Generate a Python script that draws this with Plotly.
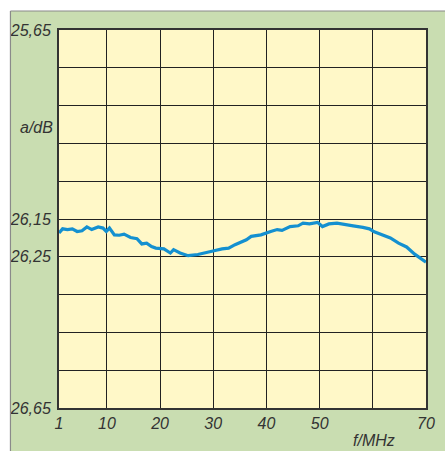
import plotly.graph_objects as go

# Data
freq_mhz = [1.0, 1.68, 2.59, 3.50, 4.41, 5.33, 6.24, 7.15, 8.36, 9.27, 9.89, 10.49,
            11.41, 12.32, 13.23, 14.45, 15.66, 16.57, 17.48, 18.40, 19.20, 20.72,
            21.94, 22.54, 23.76, 25.28, 27.10, 28.62, 30.15, 31.67, 32.89, 34.10,
            35.32, 36.23, 37.14, 38.97, 40.80, 42.02, 42.93, 44.45, 45.96, 46.88,
            48.10, 49.61, 50.53, 51.75, 53.26, 54.49, 56.31, 58.14, 59.36, 60.27,
            61.79, 63.30, 64.84, 66.35, 67.87, 69.09, 70.0]
atten_db = [26.187, 26.176, 26.178, 26.176, 26.183, 26.181, 26.171, 26.178, 26.171,
            26.174, 26.183, 26.174, 26.192, 26.193, 26.190, 26.199, 26.202, 26.216,
            26.214, 26.223, 26.227, 26.229, 26.240, 26.231, 26.240, 26.247, 26.244,
            26.240, 26.234, 26.229, 26.227, 26.218, 26.211, 26.205, 26.196, 26.192,
            26.183, 26.178, 26.180, 26.170, 26.168, 26.161, 26.163, 26.159, 26.170,
            26.163, 26.161, 26.163, 26.168, 26.172, 26.176, 26.184, 26.192, 26.200,
            26.214, 26.224, 26.243, 26.255, 26.264]

x_tickvals = [1, 10, 20, 30, 40, 50, 60, 70]
x_ticktext = ["1", "10", "20", "30", "40", "50", "", "70"]
y_tickvals = [25.65, 25.75, 25.85, 25.95, 26.05, 26.15, 26.25, 26.35, 26.45, 26.55, 26.65]
y_ticktext = ["25,65", "", "", "", "", "26,15", "26,25", "", "", "", "26,65"]
x_title = "f/MHz"
y_title = "a/dB"

GREEN = "#c9ddb1"
YELLOW = "#fff8c8"
TEXT = "#333333"
FONT = "Liberation Sans, Arial, sans-serif"

fig = go.Figure()
fig.add_trace(go.Scatter(x=freq_mhz, y=atten_db, mode="lines",
                         line=dict(color="#1490d0", width=3.2),
                         hoverinfo="skip", showlegend=False))

fig.update_layout(
    width=445, height=451,
    margin=dict(l=57, r=10, t=30, b=43),
    paper_bgcolor=GREEN,
    plot_bgcolor=YELLOW,
    xaxis=dict(range=[1, 70], tickvals=x_tickvals, ticktext=x_ticktext,
               showgrid=True, gridcolor="#222222", gridwidth=1.3,
               showline=True, mirror=True, linecolor="#333333", linewidth=2,
               ticks="", ticklabelstandoff=0, zeroline=False,
               tickfont=dict(family=FONT, size=16, color=TEXT, style="italic")),
    yaxis=dict(range=[26.65, 25.65], tickvals=y_tickvals, ticktext=y_ticktext,
               showgrid=True, gridcolor="#222222", gridwidth=1.3,
               showline=True, mirror=True, linecolor="#333333", linewidth=2,
               ticks="", ticklabelstandoff=3, zeroline=False,
               tickfont=dict(family=FONT, size=16, color=TEXT, style="italic")),
    shapes=[
        dict(type="rect", xref="paper", yref="paper", x0=-0.2, x1=1.1,
             y0=1.0503, y1=1.2, fillcolor="white", line=dict(width=0), layer="above"),
        dict(type="rect", xref="paper", yref="paper", x0=-0.2, x1=-0.1323,
             y0=-0.2, y1=1.2, fillcolor="white", line=dict(width=0), layer="above"),
        dict(type="line", xref="paper", yref="paper", x0=-0.1323, x1=1.1,
             y0=1.0503, y1=1.0503, line=dict(color="#8a8a8a", width=1.2)),
        dict(type="line", xref="paper", yref="paper", x0=-0.1323, x1=-0.1323,
             y0=-0.2, y1=1.0503, line=dict(color="#8a8a8a", width=1.2)),
    ],
    annotations=[
        dict(text=y_title, xref="paper", yref="y", x=-0.012, y=25.909,
             xanchor="right", yanchor="middle", showarrow=False,
             font=dict(family=FONT, size=16, color=TEXT, style="italic")),
        dict(text=x_title, xref="x", yref="paper", x=60.2, y=-0.085,
             xanchor="center", yanchor="middle", showarrow=False,
             font=dict(family=FONT, size=16, color=TEXT, style="italic")),
    ],
)

fig.write_html("out.html", config={"displayModeBar": False},
               post_script="document.body.style.margin='0';document.body.style.overflow='hidden';")
